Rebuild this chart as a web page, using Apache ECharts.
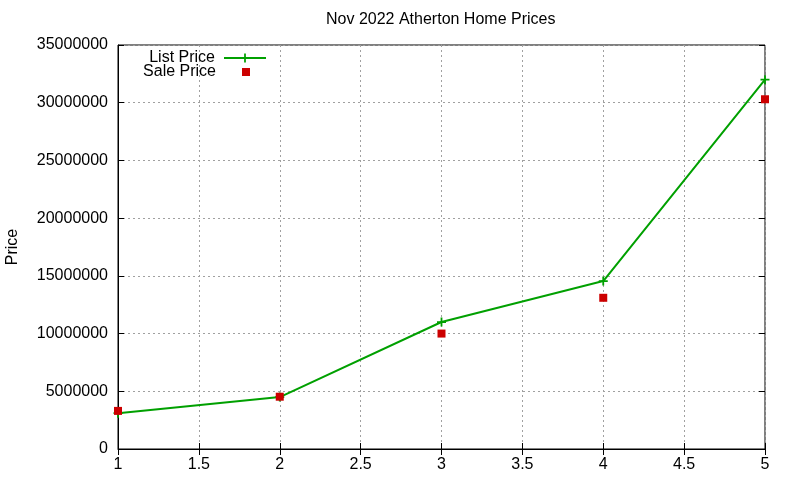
<!DOCTYPE html>
<html>
<head>
<meta charset="utf-8">
<script src="https://cdn.jsdelivr.net/npm/echarts@6/dist/echarts.min.js"></script>
<style>
  html, body { margin: 0; padding: 0; background: #fff; }
  #chart { width: 800px; height: 480px; }
</style>
</head>
<body>
<div id="chart"></div>
<script>
// values
const xValues = [1, 2, 3, 4, 5];
const listPrice = [3100000, 4500000, 11000000, 14550000, 32000000];
const salePrice = [3300000, 4530000, 10000000, 13100000, 30300000];
const seriesNames = ['List Price', 'Sale Price'];

const FONT = 'Liberation Sans, Arial, sans-serif';
const GREEN = '#00a000';
const RED = '#cc0000';
const CROSS = 'path://M4,0h2v4h4v2h-4v4h-2v-4h-4v-2h4z';

const pair = (xs, ys) => xs.map((x, i) => [x, ys[i]]);

const gridLine = { show: true, lineStyle: { color: '#a0a0a0', width: 1, type: [2, 3] } };
const tickIn = { show: true, inside: true, length: 6, lineStyle: { color: '#000', width: 1 } };

const xBase = { type: 'value', min: 1, max: 5, interval: 0.5 };
const yBase = { type: 'value', min: 0, max: 35000000, interval: 5000000 };

const option = {
    animation: false,
    backgroundColor: '#fff',
    title: {
        text: 'Nov 2022 Atherton Home Prices',
        left: 326, top: 12, padding: 0,
        textStyle: { fontFamily: FONT, fontSize: 16, fontWeight: 'normal', color: '#000' }
    },
    legend: [
        {
            data: [seriesNames[0]], orient: 'vertical', align: 'right',
            right: 533, top: 50, padding: 0, itemWidth: 42, itemHeight: 11,
            textStyle: { fontFamily: FONT, fontSize: 16, color: '#000', padding: [0, 4, 0, 0] }
        },
        {
            data: [{ name: seriesNames[1], icon: 'rect' }], orient: 'vertical', align: 'right',
            right: 550, top: 64, padding: 0, itemWidth: 8, itemHeight: 8,
            textStyle: { fontFamily: FONT, fontSize: 16, color: '#000', padding: [0, 21, 0, 0] }
        }
    ],
    grid: {
        left: 118, right: 35, top: 45, bottom: 31,
        outerBoundsMode: 'none',
        show: true, borderColor: '#000', borderWidth: 1
    },
    xAxis: [
        Object.assign({}, xBase, {
            position: 'bottom',
            axisLine: { show: true, lineStyle: { color: '#000', width: 1 } },
            axisTick: tickIn,
            axisLabel: { margin: 8, color: '#000', fontFamily: FONT, fontSize: 16 },
            splitLine: gridLine
        }),
        Object.assign({}, xBase, {
            position: 'top',
            axisLine: { show: false },
            axisTick: tickIn,
            axisLabel: { show: false },
            splitLine: { show: false }
        })
    ],
    yAxis: [
        Object.assign({}, yBase, {
            position: 'left',
            name: 'Price', nameLocation: 'middle', nameGap: 97,
            nameTextStyle: { fontFamily: FONT, fontSize: 16, color: '#000' },
            axisLine: { show: true, lineStyle: { color: '#000', width: 1 } },
            axisTick: tickIn,
            axisLabel: { margin: 10, color: '#000', fontFamily: FONT, fontSize: 16, formatter: v => String(v) },
            splitLine: gridLine
        }),
        Object.assign({}, yBase, {
            position: 'right',
            axisLine: { show: false },
            axisTick: tickIn,
            axisLabel: { show: false },
            splitLine: { show: false }
        })
    ],
    series: [
        {
            name: seriesNames[0],
            type: 'line',
            data: pair(xValues, listPrice),
            symbol: CROSS, symbolSize: 9,
            lineStyle: { color: GREEN, width: 2 },
            itemStyle: { color: GREEN },
            z: 2
        },
        {
            name: seriesNames[1],
            type: 'scatter',
            data: pair(xValues, salePrice),
            symbol: 'rect', symbolSize: 8,
            itemStyle: { color: RED, opacity: 1 },
            z: 3
        }
    ]
};

const chart = echarts.init(document.getElementById('chart'));
chart.setOption(option);
</script>
</body>
</html>
